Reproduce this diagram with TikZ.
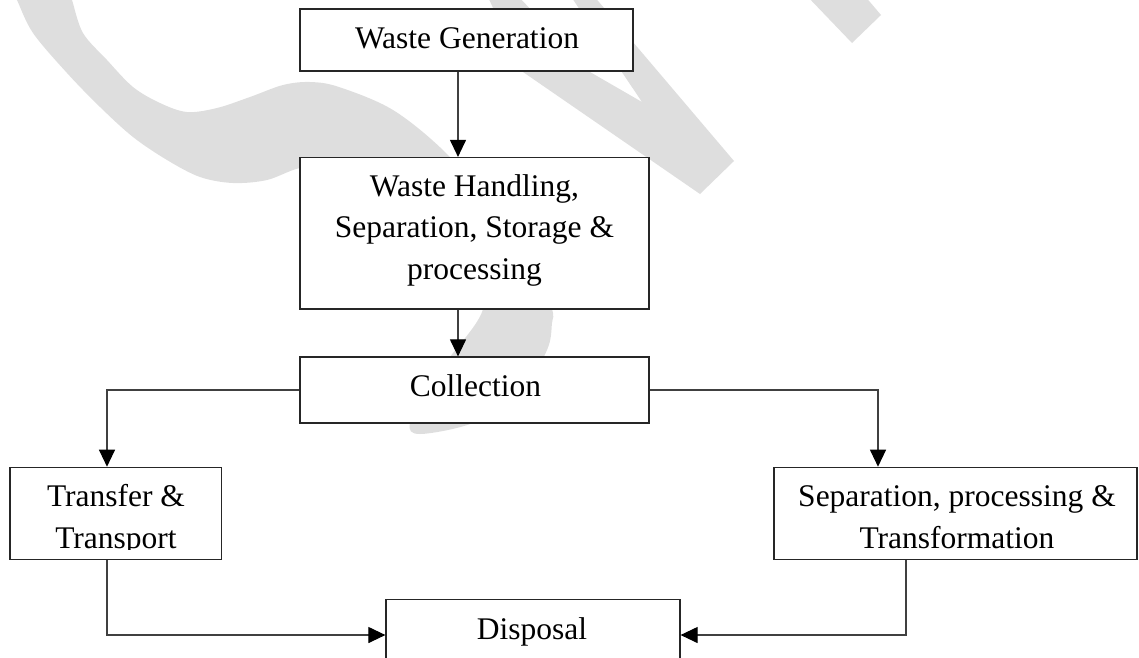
\documentclass[tikz,border=0pt]{standalone}
\usepackage{fontspec}
\setmainfont{Liberation Serif}
\usetikzlibrary{arrows.meta}
\begin{document}
\begin{tikzpicture}[x=1pt,y=-1pt,
  box/.style={draw=black!85, line width=1.2pt, fill=white, rectangle, inner sep=0pt},
  txt/.style={font=\fontsize{31.5}{41.6}\selectfont, align=center, anchor=base, inner sep=0pt},
  arr/.style={draw=black!75, line width=1.1pt, -{Triangle[length=17pt,width=16pt,color=black,fill=black]}},
  wm/.style={fill=black!13}]
\useasboundingbox (0,0) rectangle (1139,657);
\clip (0,0) rectangle (1139,657);
% watermark
\fill[wm] plot[smooth cycle, tension=0.55] coordinates {
 (67,-15) (72,0) (83,33) (107,60) (133,87) (160,103) (187,112) (217,108) (250,97)
 (283,85) (310,82) (339,87) (393,110) (446,153) (500,215) (535,265) (552,309)
 (552,323) (547,350) (520,395) (473,423) (420,434) (410,423) (430,385) (450,357)
 (483,309) (475,260) (440,215) (390,182) (340,165) (300,168) (267,180) (233,183)
 (200,177) (167,160) (133,137) (100,107) (67,73) (33,33) (17,0) (10,-15)};
\fill[wm] (487,-5) -- (517,-5) -- (590,72) -- (642,102) -- (570,-5) -- (593,-5)
  -- (734,161) -- (700,194) -- (523,72) -- cycle;
\fill[wm] (806,-5) -- (864,-5) -- (881,15) -- (852,43) -- cycle;
% boxes
\node[box, minimum width=333pt, minimum height=62pt] (gen) at (466.5,40) {};
\node[box, minimum width=349pt, minimum height=151.5pt] (hand) at (474.5,233.25) {};
\node[box, minimum width=349pt, minimum height=66pt] (coll) at (474.5,390) {};
\node[box, minimum width=211.5pt, minimum height=92pt] (trans) at (115.75,513.3) {};
\node[box, minimum width=363pt, minimum height=92pt] (sep) at (955.5,513.3) {};
\node[box, minimum width=294pt, minimum height=71pt] (disp) at (533,635) {};
% texts (multi-line nodes: base is the last line's baseline)
\node[txt] (gent) at (467,48.3) {Waste Generation};
\node[txt] (handt) at (474.5,279.5) {Waste Handling,\\Separation, Storage \&\\processing};
\node[txt] (collt) at (475.5,396.7) {Collection};
\begin{scope}
  \clip (0,460) rectangle (230,549);
  \node[txt] (transt) at (116,548.3) {Transfer \&\\Transport};
\end{scope}
\node[txt] (sept) at (957,548.3) {Separation, processing \&\\Transformation};
\node[txt] (dispt) at (532,639) {Disposal};
% connectors
\coordinate (cx) at (458,0);
\coordinate (lx) at (107,0);
\coordinate (rx) at (878,0);
\coordinate (rx2) at (906,0);
\draw[arr] (gen.south -| cx) -- (hand.north -| cx);
\draw[arr] (hand.south -| cx) -- (coll.north -| cx);
\draw[arr] (coll.west) -| (trans.north -| lx);
\draw[arr] (coll.east) -| (sep.north -| rx);
\draw[arr] (trans.south -| lx) |- (disp.west);
\draw[arr] (sep.south -| rx2) |- (disp.east);
\end{tikzpicture}
\end{document}
